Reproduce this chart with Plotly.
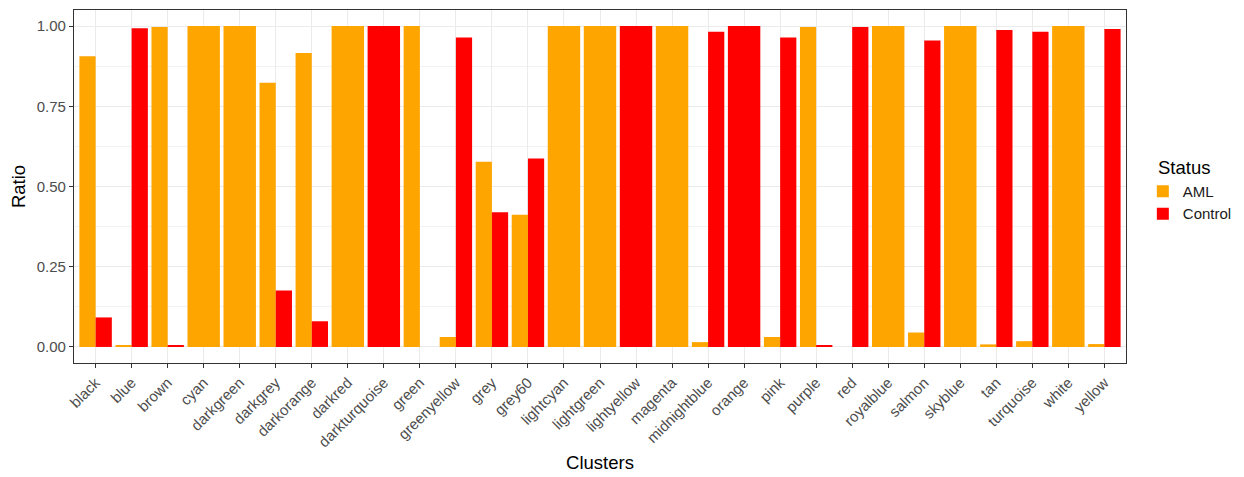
import plotly.graph_objects as go

clusters = ["black", "blue", "brown", "cyan", "darkgreen", "darkgrey", "darkorange", "darkred",
            "darkturquoise", "green", "greenyellow", "grey", "grey60", "lightcyan", "lightgreen",
            "lightyellow", "magenta", "midnightblue", "orange", "pink", "purple", "red",
            "royalblue", "salmon", "skyblue", "tan", "turquoise", "white", "yellow"]

aml_ratio = [0.906, 0.003, 0.997, 1.0, 1.0, 0.823, 0.916, 1.0, None, 1.0, 0.031, 0.577, 0.412,
             1.0, 1.0, None, 1.0, 0.015, None, 0.031, 0.997, 0.0, 1.0, 0.045, 1.0, 0.008,
             0.018, 1.0, 0.009]
control_ratio = [0.092, 0.993, 0.003, None, None, 0.176, 0.080, None, 1.0, 0.0, 0.964, 0.42,
                 0.587, None, None, 1.0, None, 0.982, 1.0, 0.964, 0.003, 0.997, None, 0.955,
                 None, 0.988, 0.982, None, 0.991]

status_names = ["AML", "Control"]
status_colors = ["#FFA500", "#FF0000"]

FONT = "Liberation Sans, Arial, sans-serif"
TOTAL_W = 0.9


def dodge(own, other, first):
    widths, offsets = [], []
    for a, b in zip(own, other):
        if b is None:
            widths.append(TOTAL_W)
            offsets.append(-TOTAL_W / 2)
        else:
            widths.append(TOTAL_W / 2)
            offsets.append(-TOTAL_W / 2 if first else 0.0)
    return widths, offsets


fig = go.Figure()
series = [aml_ratio, control_ratio]
for i, (name, color) in enumerate(zip(status_names, status_colors)):
    own = series[i]
    other = series[1 - i]
    w, o = dodge(own, other, i == 0)
    fig.add_trace(go.Bar(
        x=clusters, y=own, name=name, width=w, offset=o,
        marker=dict(color=color, line=dict(width=0)),
    ))

# the page body has an 8px margin, so the figure is sized/offset to compensate
fig.update_layout(
    barmode="overlay",
    width=1236, height=469,
    margin=dict(l=66, r=118, t=2, b=114, autoexpand=False),
    paper_bgcolor="white", plot_bgcolor="white",
    font=dict(family=FONT, size=15, color="#4D4D4D"),
    legend=dict(
        font=dict(size=15, color="#1A1A1A", family=FONT),
        x=1.016, xanchor="left", y=0.455, yanchor="middle",
        tracegroupgap=0, itemsizing="constant",
        bgcolor="rgba(0,0,0,0)",
    ),
    showlegend=True,
    annotations=[dict(
        text="Status", xref="paper", yref="paper", x=1.0285, y=0.555,
        xanchor="left", yanchor="middle", showarrow=False,
        font=dict(size=18.5, color="black", family=FONT),
    )],
)

fig.update_xaxes(
    type="category", categoryorder="array", categoryarray=clusters,
    range=[-0.6, len(clusters) - 0.4],
    tickangle=-45, tickfont=dict(size=15, color="#4D4D4D"),
    showgrid=True, gridcolor="#EBEBEB", gridwidth=1.3,
    showline=True, linecolor="#333333", linewidth=1.2, mirror=True,
    ticks="outside", ticklen=4, tickcolor="#333333", tickwidth=1.2,
    title=dict(text="Clusters", font=dict(size=18.5, color="black", family=FONT), standoff=6),
    zeroline=False, automargin=False,
)
fig.update_yaxes(
    range=[-0.05, 1.05],
    tickvals=[0, 0.25, 0.5, 0.75, 1.0],
    ticktext=["0.00", "0.25", "0.50", "0.75", "1.00"],
    tickfont=dict(size=15, color="#4D4D4D"),
    showgrid=True, gridcolor="#EBEBEB", gridwidth=1.3,
    minor=dict(tickvals=[0.125, 0.375, 0.625, 0.875], showgrid=True,
               gridcolor="#F2F2F2", gridwidth=0.7, ticks=""),
    showline=True, linecolor="#333333", linewidth=1.2, mirror=True,
    ticks="outside", ticklen=4, tickcolor="#333333", tickwidth=1.2,
    title=dict(text="Ratio", font=dict(size=18.5, color="black", family=FONT), standoff=6),
    zeroline=False, automargin=False,
)

fig.write_html("out.html")
